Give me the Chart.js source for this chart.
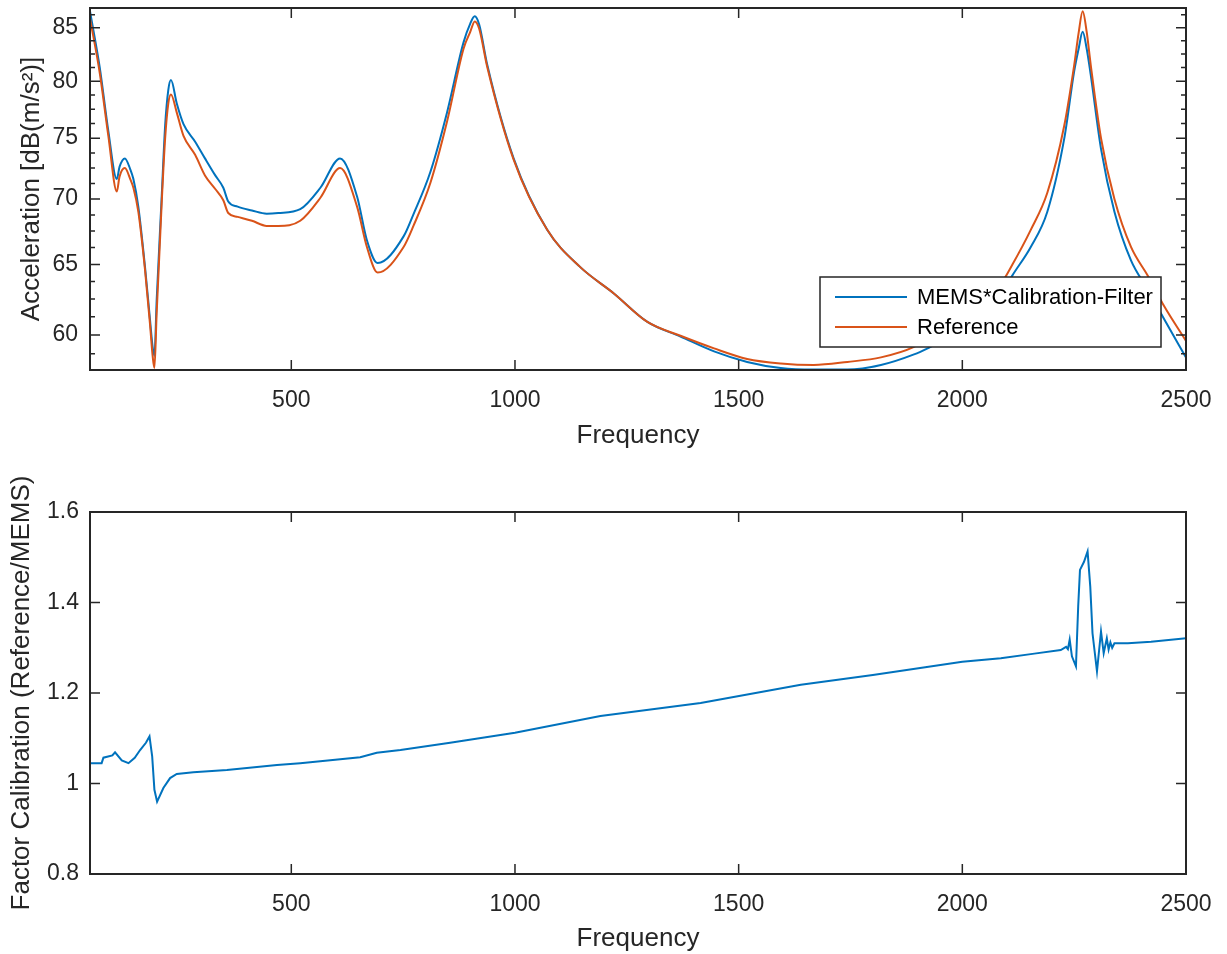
<!DOCTYPE html>
<html lang="en">
<head>
    <meta charset="UTF-8">
    <title>MEMS Calibration</title>
    <script src="https://cdn.jsdelivr.net/npm/chart.js"></script>
    <style>
        body { margin: 0; padding: 0; background: #fff; }
        .plot { position: absolute; left: 0; width: 1227px; }
        #topBox { top: 0; height: 465px; }
        #bottomBox { top: 465px; height: 489px; }
    </style>
</head>
<body>
    <div class="plot" id="topBox"><canvas id="accChart"></canvas></div>
    <div class="plot" id="bottomBox"><canvas id="calChart"></canvas></div>

    <script>
        // Top plot: acceleration spectra (dB)
        const freqTop = [50, 72, 91, 110, 116, 128, 140, 147, 158, 173, 184, 190, 194, 199, 210, 218, 225, 231, 244, 259,
            285, 307, 330, 348, 359, 380, 412, 445, 471, 520, 565, 609, 647, 669, 693, 751, 773, 811, 848, 885,
            900, 910, 920, 938, 997, 1072, 1146, 1221, 1296, 1370, 1445, 1519, 1594, 1668, 1743, 1818, 1892, 1929, 1981, 2041,
            2086, 2112, 2153, 2190, 2228, 2250, 2260, 2269, 2278, 2287, 2310, 2340, 2377, 2414, 2451, 2500];
        const memsTop = [86.6, 81.2, 75.6, 71.6, 72.6, 73.3, 72.4, 71.6, 69.4, 64.8, 61.1, 59.2, 58.6, 62.4, 70.0, 76.1, 79.2, 80.1, 78.0, 76.2,
            74.7, 73.3, 71.9, 70.9, 69.8, 69.4, 69.1, 68.85, 68.9, 69.2, 70.9, 73.3, 70.2, 66.8, 65.1, 67.1, 68.8, 72.2, 77.2, 83.6,
            85.4, 86.1, 85.3, 81.5, 73.3, 67.6, 64.8, 62.9, 60.9, 59.9, 58.9, 58.2, 57.8, 57.7, 57.7, 58.0, 58.7, 59.2, 60.0, 61.5,
            62.8, 64.2, 66.3, 69.0, 75.0, 80.9, 83.0, 84.6, 83.0, 80.6, 74.1, 69.0, 65.3, 63.2, 61.1, 58.5];
        const refTop = [85.9, 80.7, 75.2, 70.6, 71.8, 72.5, 71.6, 70.9, 69.0, 64.6, 60.8, 58.6, 57.8, 61.5, 69.5, 75.0, 78.0, 78.8, 77.2, 75.2,
            73.6, 71.9, 70.8, 69.9, 68.9, 68.6, 68.3, 67.9, 67.9, 68.3, 70.1, 72.5, 69.4, 66.3, 64.4, 66.3, 67.9, 71.3, 76.4, 83.0,
            84.6, 85.6, 84.9, 81.3, 73.2, 67.6, 64.8, 62.9, 60.9, 59.95, 59.1, 58.4, 58.1, 58.0, 58.2, 58.5, 59.2, 59.9, 61.0, 62.6,
            63.6, 65.0, 67.6, 70.5, 76.1, 81.45, 84.5, 86.6, 84.6, 81.5, 75.0, 70.0, 66.3, 64.2, 62.0, 59.6];

        // Bottom plot: calibration factor
        const freqCal = [50, 76, 80, 100, 106, 121, 136, 150, 162, 175, 183, 189, 194, 200, 214, 229, 244, 281, 356, 468,
            520, 654, 691, 744, 855, 1000, 1191, 1415, 1639, 1800, 2000, 2086, 2161, 2220, 2232, 2236, 2240, 2245, 2254, 2259,
            2263, 2272, 2280, 2286, 2291, 2301, 2310, 2316, 2323, 2327, 2331, 2335, 2340, 2370, 2422, 2500];
        const factorCal = [1.045, 1.045, 1.057, 1.062, 1.069, 1.051, 1.045, 1.057, 1.074, 1.090, 1.104, 1.060, 0.986, 0.960, 0.990, 1.012, 1.021, 1.025, 1.030, 1.041,
            1.045, 1.058, 1.068, 1.074, 1.090, 1.112, 1.149, 1.178, 1.218, 1.240, 1.269, 1.277, 1.287, 1.295, 1.302, 1.297, 1.318, 1.281, 1.259, 1.391,
            1.472, 1.490, 1.513, 1.435, 1.332, 1.248, 1.336, 1.288, 1.321, 1.296, 1.312, 1.300, 1.310, 1.310, 1.313, 1.321];

        const freqTicks = [500, 1000, 1500, 2000, 2500];
        const accTicks = [60, 65, 70, 75, 80, 85];
        const accMinorTicks = [58.75, 61.25, 62.5, 63.75, 66.25, 67.5, 68.75, 71.25, 72.5, 73.75, 76.25, 77.5, 78.75, 81.25, 82.5, 83.75, 86.25];
        const calTicks = [0.8, 1, 1.2, 1.4, 1.6];

        const FONT = "'Liberation Sans', Arial, Helvetica, sans-serif";
        const INK = '#262626';
        Chart.defaults.font.family = FONT;
        Chart.defaults.color = INK;

        const toPoints = (xs, ys) => xs.map((x, i) => ({ x: x, y: ys[i] }));

        // MATLAB-like box with inward ticks, plus an in-axes legend
        const frame = {
            id: 'frame',
            afterDraw(chart, args, opts) {
                const { ctx, chartArea: a, scales: { x, y } } = chart;
                ctx.save();
                ctx.strokeStyle = INK;
                ctx.lineWidth = 1.5;
                ctx.beginPath();
                const tick = (px, py, dx, dy) => { ctx.moveTo(px, py); ctx.lineTo(px + dx, py + dy); };
                x.ticks.forEach(t => {
                    const p = x.getPixelForValue(t.value);
                    tick(p, a.bottom, 0, -10);
                    tick(p, a.top, 0, 10);
                });
                y.ticks.forEach(t => {
                    const p = y.getPixelForValue(t.value);
                    tick(a.left, p, 10, 0);
                    tick(a.right, p, -10, 0);
                });
                (opts.minor || []).forEach(v => {
                    const p = y.getPixelForValue(v);
                    if (p < a.top || p > a.bottom) return;
                    tick(a.left, p, 5, 0);
                    tick(a.right, p, -5, 0);
                });
                ctx.stroke();
                ctx.lineWidth = 2;
                ctx.strokeRect(a.left, a.top, a.width, a.height);

                if (opts.legend) {
                    const w = 341, h = 70;
                    const lx = a.right - 25 - w, ly = a.bottom - 23 - h;
                    ctx.fillStyle = '#fff';
                    ctx.fillRect(lx, ly, w, h);
                    ctx.lineWidth = 1.5;
                    ctx.strokeRect(lx, ly, w, h);
                    ctx.font = '22px ' + FONT;
                    ctx.textBaseline = 'middle';
                    chart.data.datasets.forEach((ds, i) => {
                        const cy = ly + 20 + i * 30;
                        ctx.strokeStyle = ds.borderColor;
                        ctx.lineWidth = 2;
                        ctx.beginPath();
                        ctx.moveTo(lx + 15, cy);
                        ctx.lineTo(lx + 87, cy);
                        ctx.stroke();
                        ctx.fillStyle = '#000';
                        ctx.fillText(ds.label, lx + 97, cy + 1);
                    });
                }
                ctx.restore();
            }
        };

        // keep the plot box where it is: no extra room for edge labels
        const fitY = s => { s.width = 90; s.paddingTop = 0; s.paddingBottom = 0; };

        const xAxis = (height, titlePad) => ({
            type: 'linear',
            min: 50,
            max: 2500,
            afterBuildTicks: s => { s.ticks = freqTicks.map(v => ({ value: v })); },
            afterFit: s => { s.height = height; s.paddingLeft = 0; s.paddingRight = 0; },
            grid: { display: false },
            border: { display: false },
            ticks: { padding: 9, font: { size: 23 }, color: INK, maxRotation: 0, callback: v => String(v) },
            title: { display: true, text: 'Frequency', font: { size: 26 }, color: INK, padding: { top: 0, bottom: titlePad } }
        });

        new Chart(document.getElementById('accChart'), {
            type: 'line',
            data: {
                datasets: [{
                    label: 'MEMS*Calibration-Filter',
                    data: toPoints(freqTop, memsTop),
                    borderColor: '#0072BD',
                    borderWidth: 2,
                    pointRadius: 0,
                    cubicInterpolationMode: 'monotone',
                    order: 1
                }, {
                    label: 'Reference',
                    data: toPoints(freqTop, refTop),
                    borderColor: '#D95319',
                    borderWidth: 2,
                    pointRadius: 0,
                    cubicInterpolationMode: 'monotone',
                    order: 0
                }]
            },
            options: {
                responsive: true,
                maintainAspectRatio: false,
                animation: false,
                layout: { padding: { top: 8, right: 41, left: 0, bottom: 0 } },
                plugins: {
                    legend: { display: false },
                    tooltip: { enabled: false },
                    frame: { minor: accMinorTicks, legend: true }
                },
                scales: {
                    x: xAxis(95, 14),
                    y: {
                        type: 'logarithmic',
                        min: 57.67,
                        max: 86.92,
                        afterBuildTicks: s => { s.ticks = accTicks.map(v => ({ value: v })); },
                        afterFit: fitY,
                        grid: { display: false },
                        border: { display: false },
                        ticks: { padding: 4, font: { size: 23 }, color: INK, callback: v => String(v) },
                        title: { display: true, text: 'Acceleration [dB(m/s²)]', font: { size: 26 }, color: INK, padding: { top: 16, bottom: 0 } }
                    }
                }
            },
            plugins: [frame]
        });

        new Chart(document.getElementById('calChart'), {
            type: 'line',
            data: {
                datasets: [{
                    label: 'Factor',
                    data: toPoints(freqCal, factorCal),
                    borderColor: '#0072BD',
                    borderWidth: 2,
                    pointRadius: 0,
                    tension: 0
                }]
            },
            options: {
                responsive: true,
                maintainAspectRatio: false,
                animation: false,
                layout: { padding: { top: 47, right: 41, left: 0, bottom: 0 } },
                plugins: {
                    legend: { display: false },
                    tooltip: { enabled: false },
                    frame: {}
                },
                scales: {
                    x: xAxis(80, 0),
                    y: {
                        type: 'linear',
                        min: 0.8,
                        max: 1.6,
                        afterBuildTicks: s => { s.ticks = calTicks.map(v => ({ value: v })); },
                        afterFit: fitY,
                        grid: { display: false },
                        border: { display: false },
                        ticks: { padding: 3, font: { size: 23 }, color: INK, callback: v => String(+v.toFixed(2)) },
                        title: { display: true, text: 'Factor Calibration (Reference/MEMS)', font: { size: 26 }, color: INK, padding: { top: 6, bottom: 0 } }
                    }
                }
            },
            plugins: [frame]
        });
    </script>
</body>
</html>
